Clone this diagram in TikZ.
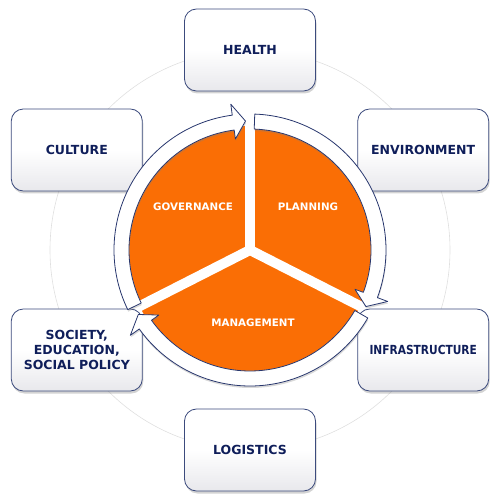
\documentclass[tikz,border=0pt]{standalone}
\usepackage{fontspec}
\setmainfont{DejaVu Sans}
\usepackage{graphicx}
\usepackage{xcolor}
\usepackage{tikz}
\usetikzlibrary{shadows}
\usetikzlibrary{calc}

\definecolor{pieorange}{RGB}{250,110,5}
\definecolor{ringblue}{RGB}{40,55,110}
\definecolor{boxblue}{RGB}{60,75,125}
\definecolor{boxtext}{RGB}{15,30,90}
\definecolor{boxgray}{RGB}{232,232,236}

\begin{document}
\begin{tikzpicture}[x=1pt, y=1pt, line join=round]
	\tikzstyle{topic}=[draw=boxblue, line width=0.8pt, rounded corners=12pt, top color=white, bottom color=boxgray, middle color=white, minimum width=131pt, minimum height=82pt, align=center, text=boxtext, font=\bfseries\fontsize{12.5}{14.7}\selectfont, drop shadow={opacity=0.35, shadow xshift=1pt, shadow yshift=-2.5pt}]
	\tikzstyle{part}=[text=white, font=\bfseries\fontsize{10.3}{12}\selectfont]
	\tikzstyle{ringarrow}=[draw=ringblue, fill=white, line width=0.8pt, drop shadow={opacity=0.3, shadow xshift=0.5pt, shadow yshift=-2pt}]
	\useasboundingbox (-250,-250) rectangle (250,250);

	\draw[gray!25, line width=0.6pt] (0,0) circle (200pt);

	\node[topic] (health)      at (90:200pt)  {HEALTH};
	\node[topic] (environment) at (30:200pt)  {ENVIRONMENT};
	\node[topic] (infra)       at (-30:200pt) {\scalebox{0.85}[1]{INFRASTRUCTURE}};
	\node[topic] (logistics)   at (-90:200pt) {LOGISTICS};
	\node[topic] (society)     at (210:200pt) {SOCIETY,\\EDUCATION,\\SOCIAL POLICY};
	\node[topic] (culture)     at (150:200pt) {CULTURE};

	\fill[pieorange] (0,0) circle (124pt);
	\foreach \a in {90,207,333}
		\draw[white, line width=10pt] (0,0) -- (\a:125pt);

	\node[part] (gov)  at (-57,43) {GOVERNANCE};
	\node[part] (plan) at (58,43)  {PLANNING};
	\node[part] (mgmt) at (3,-73)  {MANAGEMENT};

	\foreach \s/\t in {206/92, 88/-26, -30/-150}{
		\pgfmathsetmacro{\h}{\t+5.5}
		\draw[ringarrow] (\s:121pt) -- (\s:136pt) arc[start angle=\s, end angle=\h, radius=136pt]
			-- (\h:147pt) -- (\t:129pt) -- (\h:112pt) -- (\h:121pt)
			arc[start angle=\h, end angle=\s, radius=121pt] -- cycle;
	}
\end{tikzpicture}
\end{document}
